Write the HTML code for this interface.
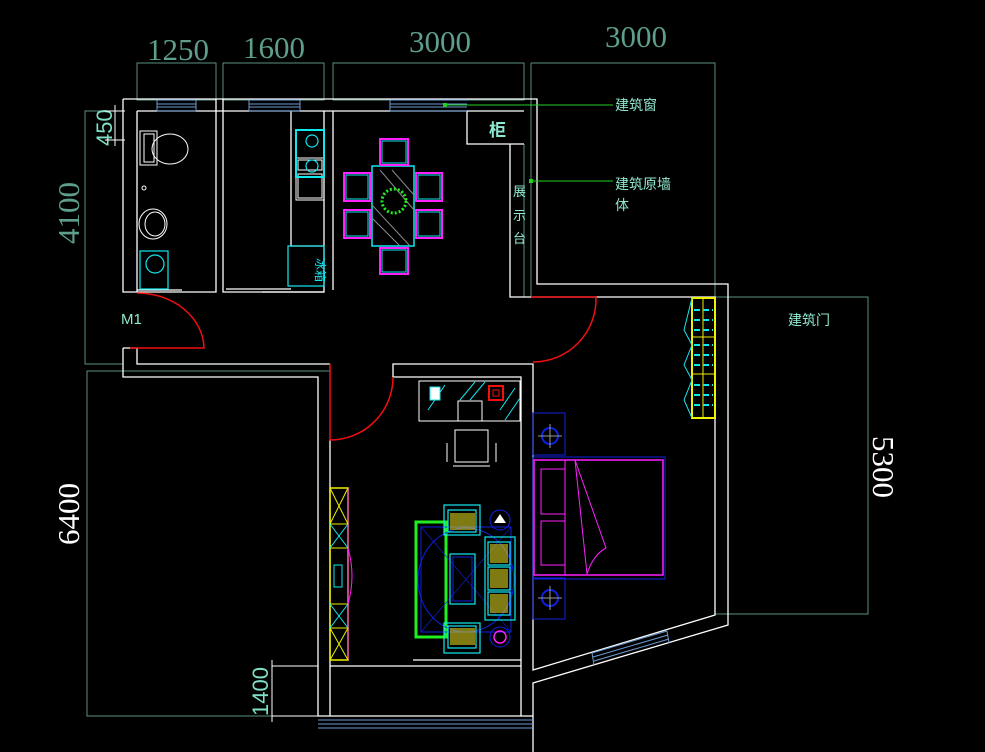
<!DOCTYPE html>
<html><head><meta charset="utf-8"><style>
html,body{margin:0;padding:0;background:#000;}
svg{display:block}
text{font-family:"Liberation Sans","Noto Sans CJK SC",sans-serif;}
.dim{font-family:"Liberation Serif","DejaVu Serif",serif;fill:#5e9e8c;font-size:31px}
</style></head><body>
<svg width="985" height="752" viewBox="0 0 985 752" xmlns="http://www.w3.org/2000/svg">
<rect width="985" height="752" fill="#000"/>
<!-- teal dimension lines -->
<g stroke="#5a9080" stroke-width="1" fill="none">
<rect x="137" y="63" width="79" height="37"/>
<rect x="223" y="63" width="101" height="37"/>
<rect x="333" y="63" width="191" height="37"/>
<path d="M531 63 H715 V297 M531 63 V297"/>
<path d="M715 297 H868 V614 H715"/>
<path d="M123 111 H85 V364 H123"/>
<path d="M330 371 H87 V716 H330"/>
<path d="M216 63 V100 M324 63 V100 M524 63 V100"/>
<path d="M524 144 V297 M531 63 V297"/>
<path d="M715 614 H728"/>
</g>
<text class="dim" x="147" y="60" font-size="30">1250</text>
<text class="dim" x="243" y="58">1600</text>
<text class="dim" x="409" y="52">3000</text>
<text class="dim" x="605" y="47">3000</text>
<text class="dim" transform="translate(79,244) rotate(-90)">4100</text>
<text class="dim" transform="translate(79,545) rotate(-90)" style="fill:#fff">6400</text>
<text class="dim" transform="translate(873,436) rotate(90)" style="fill:#fff">5300</text>
<text transform="translate(112,146) rotate(-90)" font-size="22" fill="#7fe0c8" style="font-family:'Liberation Sans',sans-serif">450</text>
<text transform="translate(268,716) rotate(-90)" font-size="22" fill="#7fe0c8">1400</text>
<g stroke="#fff" stroke-width="1" fill="none">
<path d="M105 111 H125 M105 140 H125 M115 105 V146"/>
<path d="M272 666 H318 M272 716 H318 M272 660 V722"/>
</g>
<!-- walls white -->
<g stroke="#fff" stroke-width="1.3" fill="none">
<path d="M123 99 H537 V284 H728 V625 L533 683 V752"/>
<path d="M137 111 H524 M467 111 V144 H524 M510 144 V297 H715 V615 L533 670 V364 H393 V377 H521 V716"/>
<path d="M123 99 V292 H216 V111 M223 111 V292 H324 V111 M216 292 V99 M223 99 V292 M137 111 V292"/>
<path d="M333 111 V290"/>
<path d="M291 111 V246 H324 M137 290 H182 M226 289 H291 M262 292 H324"/>
<path d="M123 348 H137 V364 H330 M123 348 V377 H318 V716 M330 440 V716"/>
<path d="M330 716 H521 M330 666 H521 M413 660 H521 M318 716 H533"/>
</g>
<!-- windows -->
<g stroke="#6a9ad0" stroke-width="1">
<path d="M157 100 H196 M157 104 H196 M157 107 H196 M157 111 H196 M157 100 V111 M196 100 V111"/>
<path d="M249 100 H300 M249 104 H300 M249 107 H300 M249 111 H300 M249 100 V111 M300 100 V111"/>
<path d="M390 100 H467 M390 104 H467 M390 107 H467 M390 111 H467 M390 100 V111"/>
<path d="M318 720 H533 M318 724 H533 M318 728 H533"/>
<path d="M592 653 L667 631 M593 657 L668 635 M594 661 L669 639 M592 653 L594 665 M667 631 L669 643"/>
</g>
<!-- labels leaders -->
<g stroke="#1fd01f" stroke-width="1">
<path d="M445 105 H613"/><path d="M531 181 H613"/>
</g>
<rect x="443" y="103" width="4" height="4" fill="#1fd01f"/>
<rect x="529" y="179" width="4" height="4" fill="#1fd01f"/>
<g fill="#8fe8d0" font-size="14">
<text x="615" y="110">建筑窗</text>
<text x="615" y="189">建筑原墙</text>
<text x="615" y="210">体</text>
<text x="788" y="325">建筑门</text>
<text x="121" y="324" font-size="15">M1</text>
<text x="489" y="136" font-size="17" font-weight="bold">柜</text>
<text x="513" y="196" font-size="13">展</text>
<text x="513" y="220" font-size="13">示</text>
<text x="513" y="243" font-size="13">台</text>
</g>
<!-- doors red -->
<g stroke="#f01010" stroke-width="1.5" fill="none">
<path d="M130 348 H204 A67 56 0 0 0 137 293"/>
<path d="M330 364 V440 A63 63 0 0 0 393 377"/>
<path d="M531 297 H596 A63 63 0 0 1 533 362"/>
</g>
<!-- bathroom fixtures -->
<g stroke="#fff" stroke-width="1" fill="none">
<rect x="140" y="131" width="17" height="34"/>
<rect x="144" y="134" width="10" height="28"/>
<ellipse cx="170" cy="149" rx="18" ry="15"/>
<ellipse cx="153" cy="224" rx="14" ry="15"/>
<ellipse cx="155" cy="224" rx="10" ry="12"/>
<circle cx="144" cy="188" r="2"/>
<rect x="296" y="158" width="28" height="42"/>
<rect x="298" y="160" width="24" height="10"/>
<rect x="298" y="174" width="24" height="24"/>
</g>
<g stroke="#10e8f0" stroke-width="1.2" fill="none">
<rect x="140" y="251" width="28" height="38"/>
<circle cx="155" cy="264" r="9"/>
<rect x="296" y="130" width="28" height="47" stroke-width="2"/>
<circle cx="312" cy="141" r="6"/><circle cx="312" cy="166" r="6"/>
<rect x="288" y="246" width="36" height="40"/>
</g>
<text x="298" y="256" font-size="12" fill="#10e8f0" transform="rotate(90 306 266)">冰箱</text>
<!-- dining -->
<g fill="none">
<rect x="372" y="166" width="42" height="80" stroke="#10e8f0" stroke-width="1.5"/>
<path d="M380 170 L414 210 M392 170 L414 195 M372 205 L410 246 M372 218 L400 246" stroke="#888"/>
<g stroke="#ff20ff" stroke-width="2">
<rect x="380" y="139" width="28" height="26"/><rect x="380" y="248" width="28" height="26"/>
<rect x="344" y="173" width="26" height="28"/><rect x="344" y="210" width="26" height="28"/>
<rect x="416" y="173" width="26" height="28"/><rect x="416" y="210" width="26" height="28"/>
</g>
<g stroke="#10e8f0" stroke-width="1">
<rect x="382" y="141" width="24" height="22"/><rect x="382" y="250" width="24" height="22"/>
<rect x="346" y="175" width="22" height="24"/><rect x="346" y="212" width="22" height="24"/>
<rect x="418" y="175" width="22" height="24"/><rect x="418" y="212" width="22" height="24"/>
</g>
<circle cx="394" cy="201" r="12" stroke="#20f020" stroke-width="3" stroke-dasharray="2 2"/>
</g>
<!-- desk -->
<g fill="none" stroke="#fff" stroke-width="1">
<rect x="419" y="381" width="101" height="40"/>
<rect x="458" y="401" width="24" height="20"/>
<path d="M455 430 H488 V462 H455 Z M447 443 V462 M496 443 V462 M453 466 H490"/>
</g>
<path d="M428 410 L445 385 M460 400 L475 382 M470 400 L485 382 M500 410 L515 388 M505 420 L520 398" stroke="#10e8f0"/>
<rect x="430" y="387" width="10" height="13" fill="#fff" stroke="#10e8f0"/>
<rect x="489" y="386" width="14" height="14" fill="none" stroke="#f01010" stroke-width="2"/>
<rect x="493" y="390" width="6" height="6" fill="none" stroke="#f01010"/>
<!-- wardrobe right -->
<g fill="none">
<rect x="692" y="298" width="23" height="120" stroke="#f0f000" stroke-width="2"/>
<path d="M703 298 V418 M692 337 H715 M692 374 H715" stroke="#f0f000"/>
<path d="M692 298 L684 330 L692 345 L684 365 L692 380 L684 400 L692 418" stroke="#10e8f0"/>
<path d="M694 310 H713 M694 320 H713 M694 330 H713 M694 345 H713 M694 355 H713 M694 365 H713 M694 385 H713 M694 395 H713 M694 405 H713" stroke="#10e8f0" stroke-width="2" stroke-dasharray="6 3"/>
</g>
<!-- TV cabinet left -->
<g fill="none">
<rect x="330" y="488" width="18" height="172" stroke="#f0f000" stroke-width="1.5"/>
<path d="M348 488 V660" stroke="#ff20ff"/>
<path d="M330 524 H348 M330 548 H348 M330 604 H348 M330 628 H348 M330 488 L348 524 M348 488 L330 524 M330 628 L348 660 M348 628 L330 660" stroke="#f0f000"/>
<path d="M330 524 L348 548 M348 524 L330 548 M330 604 L348 628 M348 604 L330 628" stroke="#10e8f0"/>
<path d="M348 548 Q356 576 348 604" stroke="#ff20ff"/>
<rect x="334" y="565" width="8" height="22" stroke="#10e8f0"/>
</g>
<!-- living sofa -->
<g fill="none">
<rect x="416" y="522" width="30" height="115" stroke="#20f020" stroke-width="3"/>
<rect x="421" y="527" width="90" height="105" stroke="#1020e0"/>
<ellipse cx="466" cy="580" rx="48" ry="52" stroke="#1020e0"/>
<path d="M421 527 L511 632 M421 632 L511 527" stroke="#1020e0" stroke-width="0.6"/>
<g stroke="#10e8f0" stroke-width="1.2">
<rect x="444" y="505" width="36" height="30"/><rect x="448" y="510" width="28" height="22"/>
<rect x="444" y="623" width="36" height="30"/><rect x="448" y="626" width="28" height="22"/>
<rect x="485" y="537" width="30" height="83"/>
<rect x="488" y="542" width="22" height="23"/><rect x="488" y="567" width="22" height="23"/><rect x="488" y="592" width="22" height="23"/>
<rect x="450" y="554" width="25" height="50"/>
</g>
<rect x="453" y="557" width="19" height="44" stroke="#1020e0"/>
<circle cx="500" cy="520" r="10" stroke="#1020e0"/>
<circle cx="500" cy="637" r="10" stroke="#1020e0"/>
<circle cx="500" cy="637" r="6" stroke="#ff20ff" stroke-width="1.5"/>
</g>
<g fill="#e8e020">
<rect x="450" y="513" width="25" height="17" opacity="0.55"/>
<rect x="450" y="628" width="25" height="17" opacity="0.55"/>
<rect x="490" y="544" width="18" height="19" opacity="0.55"/>
<rect x="490" y="569" width="18" height="19" opacity="0.55"/>
<rect x="490" y="594" width="18" height="19" opacity="0.55"/>
</g>
<path d="M494 523 L500 514 L506 523 Z" fill="#fff"/>
<!-- bed -->
<g fill="none">
<rect x="533" y="413" width="32" height="42" stroke="#1020e0"/>
<rect x="533" y="578" width="32" height="41" stroke="#1020e0"/>
<rect x="533" y="457" width="132" height="122" stroke="#1020e0"/>
<rect x="534" y="460" width="129" height="115" stroke="#ff20ff" stroke-width="1.5"/>
<path d="M565 460 V575 M541 469 H565 V514 H541 Z M541 521 H565 V565 H541 Z M575 460 L606 548 Q593 555 587 574 Z" stroke="#ff20ff"/>
<circle cx="550" cy="436" r="8" stroke="#1020e0" stroke-width="2"/>
<circle cx="550" cy="598" r="8" stroke="#1020e0" stroke-width="2"/>
<path d="M538 436 H562 M550 424 V448 M538 598 H562 M550 586 V610" stroke="#999"/>
</g>
</svg>
</body></html>
